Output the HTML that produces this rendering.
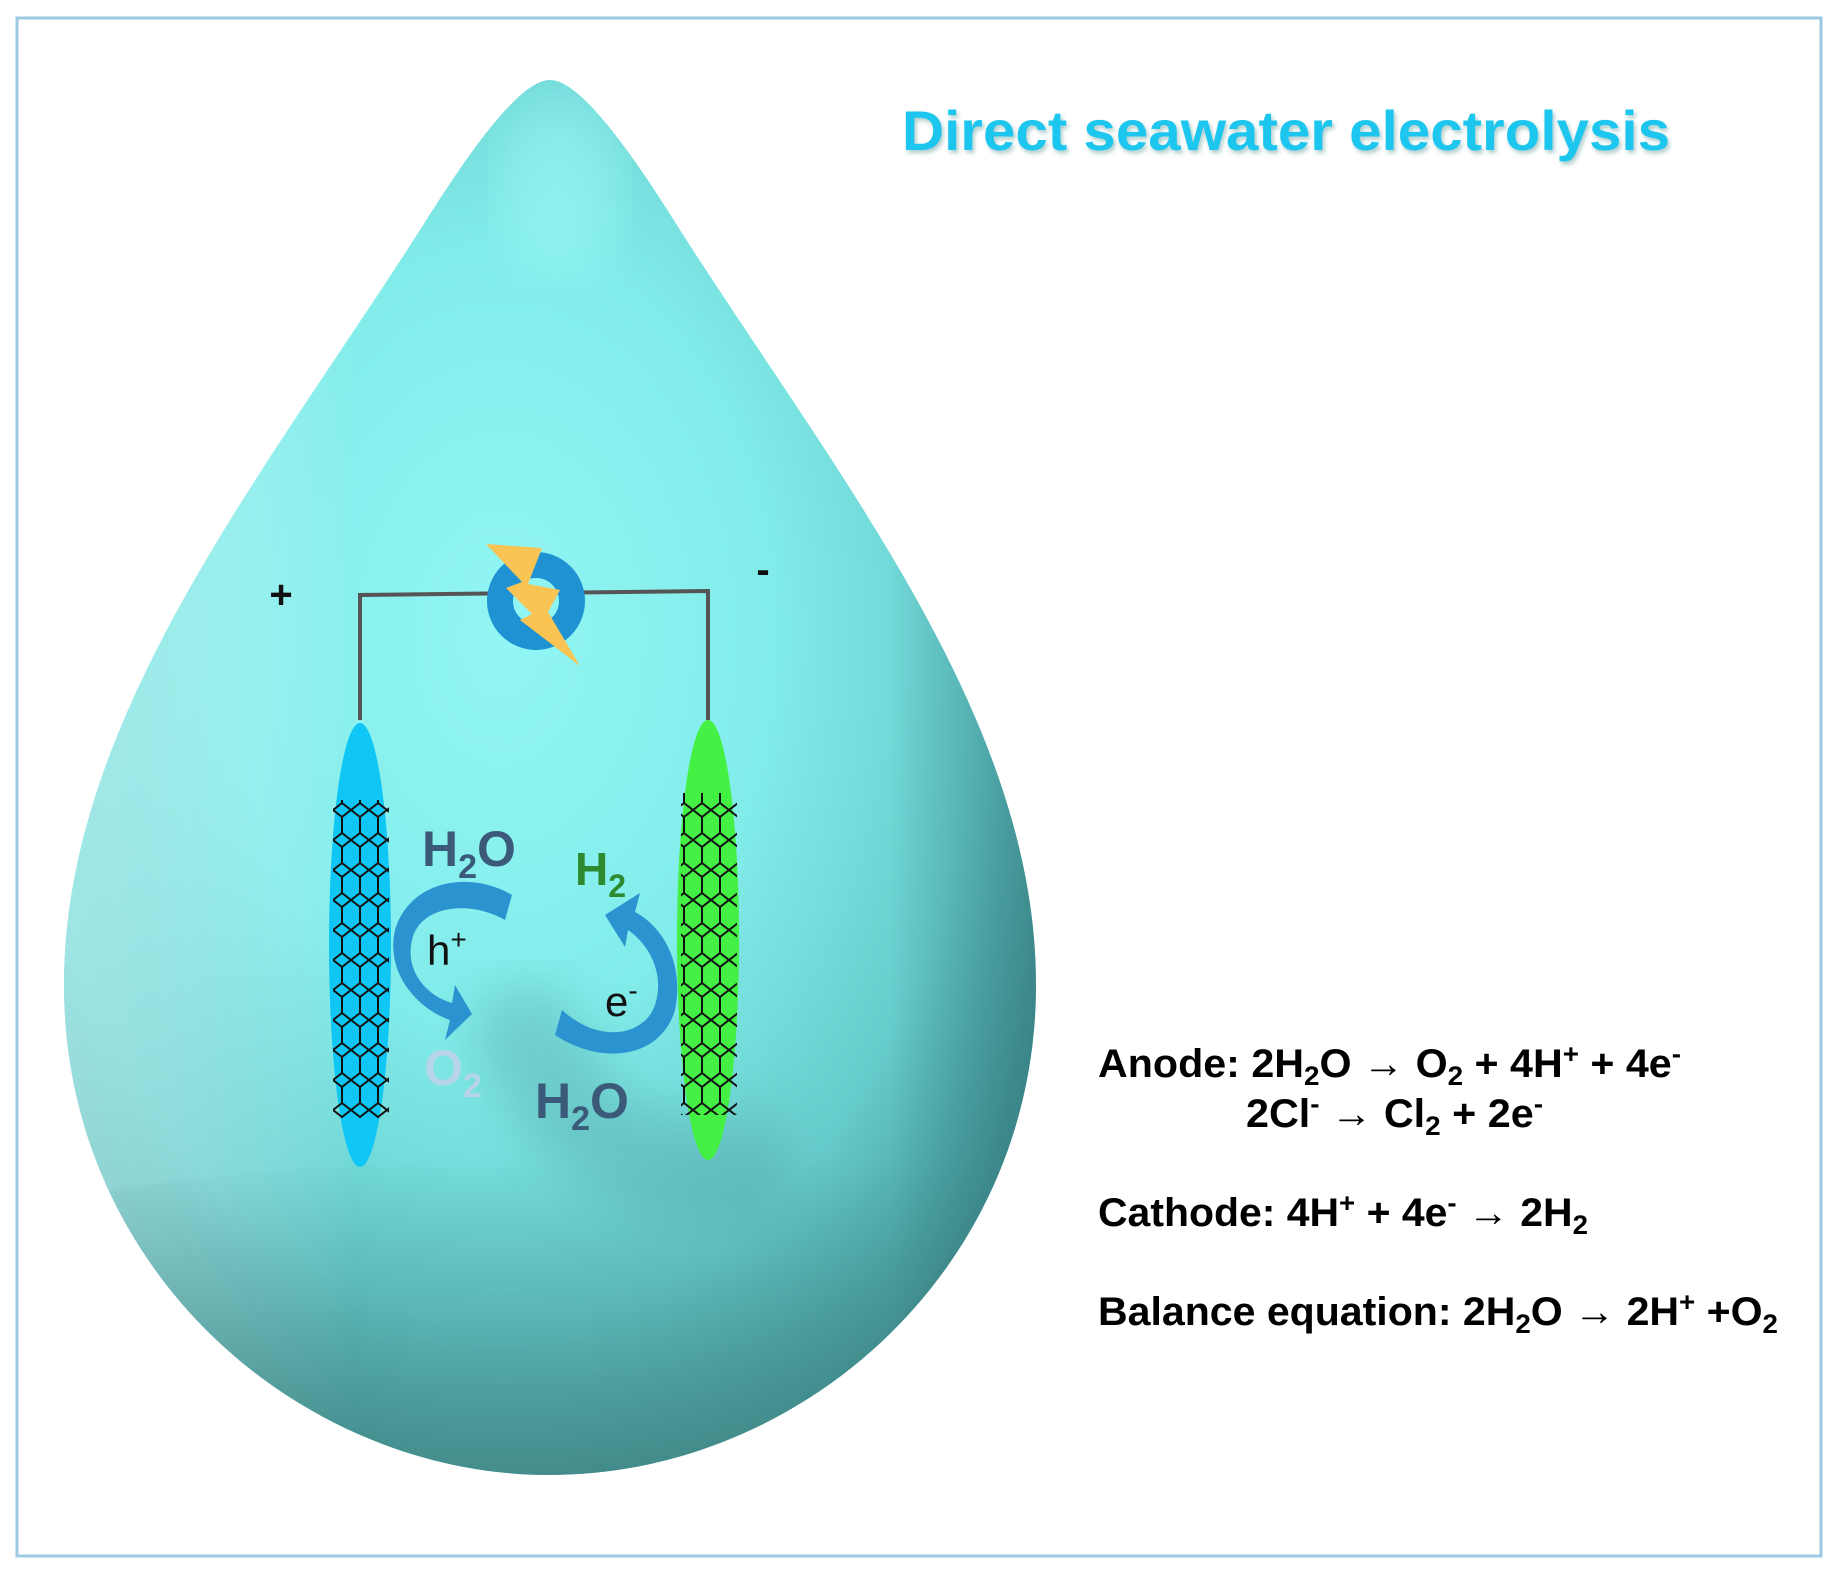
<!DOCTYPE html>
<html><head><meta charset="utf-8"><style>
html,body{margin:0;padding:0;background:#fff}
svg{display:block}
text{font-family:"Liberation Sans",Arial,sans-serif}
</style></head><body>
<svg width="1836" height="1571" viewBox="0 0 1836 1571" xmlns="http://www.w3.org/2000/svg">
<defs>
<path id="drop" d="M550,80 C520,80 470,150 420,230 C260,480 64,720 64,985 C64,1270 300,1475 550,1475 C800,1475 1036,1270 1036,985 C1036,720 840,480 680,230 C630,150 580,80 550,80 Z"/>
<clipPath id="dc"><use href="#drop"/></clipPath>
<radialGradient id="dg" cx="0.45" cy="0.4" r="0.7">
<stop offset="0" stop-color="#92f6f4"/>
<stop offset="0.4" stop-color="#82ecea"/>
<stop offset="0.7" stop-color="#66cccb"/>
<stop offset="0.9" stop-color="#479c9c"/>
<stop offset="1" stop-color="#35797c"/>
</radialGradient>
<linearGradient id="lg" x1="0" y1="0" x2="1" y2="0">
<stop offset="0" stop-color="#d8ffff" stop-opacity="0.5"/>
<stop offset="0.3" stop-color="#ffffff" stop-opacity="0"/>
<stop offset="0.85" stop-color="#2a6a70" stop-opacity="0"/>
<stop offset="1" stop-color="#2a6a70" stop-opacity="0.5"/>
</linearGradient>
<linearGradient id="bg" x1="0" y1="0" x2="0" y2="1">
<stop offset="0" stop-color="#3d8080" stop-opacity="0"/>
<stop offset="1" stop-color="#3d7a7a" stop-opacity="0.6"/>
</linearGradient>
<pattern id="hex" width="18" height="30" patternUnits="userSpaceOnUse">
<path d="M0,7 L9,0 L18,7 L18,23 L9,30 L0,23 Z" fill="none" stroke="#111" stroke-width="2"/>
</pattern>
<filter id="sh"><feDropShadow dx="2" dy="3" stdDeviation="2" flood-color="#7aa" flood-opacity="0.6"/></filter>
<filter id="bl"><feGaussianBlur stdDeviation="25"/></filter>
</defs>
<rect x="17" y="18" width="1804" height="1538" fill="#fff" stroke="#9ec9e2" stroke-width="3"/>
<text x="1286" y="150" text-anchor="middle" font-size="56" font-weight="bold" fill="#1ec6ee" filter="url(#sh)" textLength="768" lengthAdjust="spacingAndGlyphs">Direct seawater electrolysis</text>
<!-- drop -->
<use href="#drop" fill="url(#dg)"/>
<use href="#drop" fill="url(#lg)"/>
<g clip-path="url(#dc)">
<path d="M60,1200 C300,1150 700,1150 1040,1180 L1040,1480 L60,1480 Z" fill="url(#bg)"/>
<path d="M470,1020 C520,950 580,990 600,1060 C620,1120 700,1130 760,1110 C800,1150 800,1200 760,1220 C640,1230 560,1180 520,1120 C500,1080 470,1060 470,1020 Z" fill="#4f9c9c" opacity="0.35" filter="url(#bl)"/>
<ellipse cx="560" cy="180" rx="60" ry="90" fill="#a8ffff" opacity="0.4" filter="url(#bl)"/>
</g>
<!-- wires -->
<polyline points="360,720 360,595 708,591 708,720" fill="none" stroke="#555" stroke-width="4"/>
<circle cx="536" cy="601" r="36" fill="none" stroke="#1e92d2" stroke-width="26"/>
<polygon points="486,544 542,548 528,584 560,590 548,612 580,666 520,620 532,614 506,588 522,582" fill="#f9c454"/>
<text x="281" y="608" text-anchor="middle" font-size="40" font-weight="bold" fill="#111">+</text>
<text x="763" y="583" text-anchor="middle" font-size="40" font-weight="bold" fill="#111">-</text>
<!-- electrodes -->
<ellipse cx="360" cy="945" rx="31" ry="222" fill="#10c6f4"/>
<rect x="333" y="800" width="56" height="318" fill="url(#hex)"/>
<ellipse cx="708" cy="940" rx="31" ry="220" fill="#44f044"/>
<rect x="681" y="793" width="56" height="322" fill="url(#hex)"/>
<!-- arrows -->
<path d="M512,895 C470,870 410,880 395,930 C385,975 420,1010 450,1020 L445,1040 L472,1014 L455,985 L452,1003 C425,995 405,970 412,940 C420,905 470,900 505,920 Z" fill="#2a93d0"/>
<path d="M555,1035 C600,1065 660,1060 675,1010 C685,960 660,925 635,912 L640,893 L605,915 L625,947 L628,930 C650,945 665,975 655,1005 C645,1035 600,1045 562,1010 Z" fill="#2a93d0"/>
<!-- labels -->
<text x="422" y="866" font-size="50" font-weight="bold" fill="#3b5a7a">H<tspan font-size="34" dy="12">2</tspan><tspan dy="-12">O</tspan></text>
<text x="575" y="885" font-size="46" font-weight="bold" fill="#2e8a2e">H<tspan font-size="32" dy="12">2</tspan></text>
<text x="427" y="965" font-size="42" fill="#111">h<tspan font-size="28" dy="-16">+</tspan></text>
<text x="605" y="1016" font-size="42" fill="#111">e<tspan font-size="28" dy="-16">-</tspan></text>
<text x="424" y="1085" font-size="50" font-weight="bold" fill="#b6d4ea">O<tspan font-size="34" dy="12">2</tspan></text>
<text x="535" y="1118" font-size="50" font-weight="bold" fill="#3b5a7a">H<tspan font-size="34" dy="12">2</tspan><tspan dy="-12">O</tspan></text>
<!-- equations -->
<g font-size="40" font-weight="bold" fill="#000">
<text x="1098" y="1077" textLength="583" lengthAdjust="spacingAndGlyphs">Anode: 2H<tspan font-size="27" dy="8">2</tspan><tspan dy="-8">O → O</tspan><tspan font-size="27" dy="8">2</tspan><tspan dy="-8"> + 4H</tspan><tspan font-size="27" dy="-14">+</tspan><tspan dy="14"> + 4e</tspan><tspan font-size="27" dy="-14">-</tspan></text>
<text x="1246" y="1127" textLength="297" lengthAdjust="spacingAndGlyphs">2Cl<tspan font-size="27" dy="-14">-</tspan><tspan dy="14"> → Cl</tspan><tspan font-size="27" dy="8">2</tspan><tspan dy="-8"> + 2e</tspan><tspan font-size="27" dy="-14">-</tspan></text>
<text x="1098" y="1226" textLength="490" lengthAdjust="spacingAndGlyphs">Cathode: 4H<tspan font-size="27" dy="-14">+</tspan><tspan dy="14"> + 4e</tspan><tspan font-size="27" dy="-14">-</tspan><tspan dy="14"> → 2H</tspan><tspan font-size="27" dy="8">2</tspan></text>
<text x="1098" y="1325" textLength="680" lengthAdjust="spacingAndGlyphs">Balance equation: 2H<tspan font-size="27" dy="8">2</tspan><tspan dy="-8">O → 2H</tspan><tspan font-size="27" dy="-14">+</tspan><tspan dy="14"> +O</tspan><tspan font-size="27" dy="8">2</tspan></text>
</g>
</svg>
</body></html>
